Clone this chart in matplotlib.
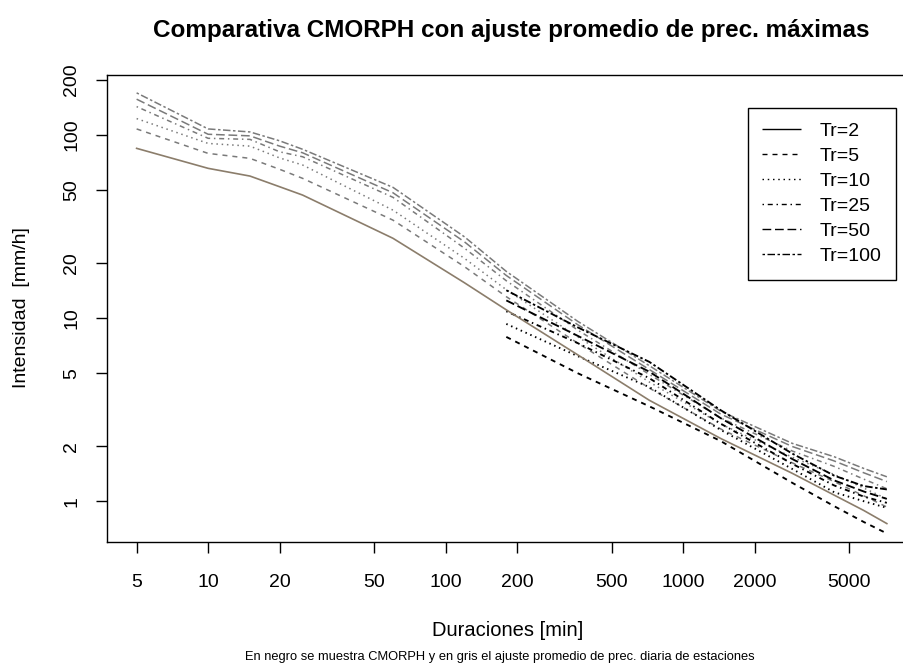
import numpy as np
import matplotlib
matplotlib.use("Agg")
import matplotlib.pyplot as plt
from matplotlib.lines import Line2D

plt.rcParams['font.family'] = ['Liberation Sans', 'DejaVu Sans']
plt.rcParams['lines.scale_dashes'] = False

# durations [min] of the station fit (gray) and of CMORPH (black)
dur_gray = [5, 10, 15, 20, 25, 60, 120, 180, 360, 720, 1440, 2880, 4320, 5760, 7200]
dur_cm = [180, 360, 720, 1440, 2880, 4320, 5760, 7200]

# intensities [mm/h] - averaged station fit
gray_tr2 = [84.6, 65.8, 59.7, 52.2, 47.0, 27.3, 15.6, 11.1, 6.3, 3.56, 2.2, 1.42, 1.08, 0.89, 0.755]
gray_tr5 = [108, 79.4, 74.6, 65, 58, 34.3, 19.1, 13.1, 7.3, 4.15, 2.48, 1.62, 1.28, 1.07, 0.93]
gray_tr10 = [123, 90, 87, 75, 68.6, 38.9, 21.2, 14.3, 7.9, 4.48, 2.64, 1.74, 1.40, 1.18, 1.03]
gray_tr25 = [143, 96, 94.7, 81, 76.1, 45.7, 24.1, 16.0, 8.6, 4.93, 2.85, 1.88, 1.55, 1.32, 1.17]
gray_tr50 = [157, 101, 99, 87, 80, 48.4, 26.1, 17.1, 9.2, 5.24, 2.99, 1.99, 1.66, 1.43, 1.28]
gray_tr100 = [170, 108, 104, 93, 83.6, 51.8, 27.8, 18.0, 9.6, 5.5, 3.1, 2.07, 1.75, 1.51, 1.36]

# intensities [mm/h] - CMORPH
cm_tr5 = [7.9, 5.0, 3.3, 2.13, 1.26, 0.94, 0.77, 0.667]
cm_tr10 = [9.3, 6.2, 4.2, 2.45, 1.5, 1.12, 1.0, 0.92]
cm_tr25 = [10.9, 7.3, 4.7, 2.65, 1.6, 1.22, 1.06, 0.98]
cm_tr50 = [12.5, 8.0, 5.1, 2.84, 1.7, 1.3, 1.13, 1.03]
cm_tr100 = [14.2, 8.9, 5.77, 3.14, 1.82, 1.38, 1.21, 1.16]

labels = ['Tr=2', 'Tr=5', 'Tr=10', 'Tr=25', 'Tr=50', 'Tr=100']
xticks = [5, 10, 20, 50, 100, 200, 500, 1000, 2000, 5000]
yticks = [1, 2, 5, 10, 20, 50, 100, 200]

# R-like line types (points)
u = 0.9
styles = [(0, ()),
          (0, (4*u, 4*u)),
          (0, (1.2*u, 3*u)),
          (0, (1.2*u, 3*u, 4*u, 3*u)),
          (0, (7*u, 3*u)),
          (0, (2*u, 2*u, 6*u, 2*u))]

fig = plt.figure(figsize=(9.04, 6.64), dpi=100)
ax = fig.add_axes([106.7/904, 1 - 541.7/664, 810/904, 466.7/664])
ax.set_xscale('log')
ax.set_yscale('log')

gray = [gray_tr2, gray_tr5, gray_tr10, gray_tr25, gray_tr50, gray_tr100]
for i, g in enumerate(gray):
    if i == 0:
        ax.plot(dur_gray, g, color='#8b7d6b', lw=1.2, zorder=3)
    else:
        ax.plot(dur_gray, g, color='#7a7a7a', lw=1.1, linestyle=styles[i], zorder=2)

cm = [cm_tr5, cm_tr10, cm_tr25, cm_tr50, cm_tr100]
for i, c in enumerate(cm):
    ax.plot(dur_cm, c, color='black', lw=1.35, linestyle=styles[i+1], zorder=2)

ax.set_xlim(10**0.573, 10**3.983)
ax.set_ylim(10**-0.221, 10**2.328)
ax.minorticks_off()
ax.set_xticks(xticks)
ax.set_xticklabels([str(t) for t in xticks])
ax.set_yticks(yticks)
ax.set_yticklabels([str(t) for t in yticks])
ax.tick_params(axis='both', direction='out', length=8, width=1, labelsize=14)
ax.tick_params(axis='x', pad=15)
ax.tick_params(axis='y', pad=11, labelrotation=90)
for lab in ax.get_yticklabels():
    lab.set_va('center')
for s in ax.spines.values():
    s.set_linewidth(1)

handles = [Line2D([], [], color='black', lw=1, linestyle=styles[i]) for i in range(6)]
leg = ax.legend(handles, labels, loc='upper right', bbox_to_anchor=(0.9745, 0.9293),
                borderaxespad=0, fontsize=14, handlelength=2.0, handletextpad=0.95,
                labelspacing=0.38, borderpad=0.75, fancybox=False, framealpha=1,
                edgecolor='black')
leg.get_frame().set_linewidth(1)

fig.text(511.7/904, 1 - 30/664, 'Comparativa CMORPH con ajuste promedio de prec. máximas',
         ha='center', va='center', fontsize=17.5, fontweight='bold')
fig.text(508/904, 1 - 631/664, 'Duraciones [min]', ha='center', va='center', fontsize=14.5)
fig.text(22/904, 1 - 308/664, 'Intensidad  [mm/h]', ha='center', va='center',
         rotation=90, fontsize=14)
fig.text(500/904, 1 - 657/664,
         'En negro se muestra CMORPH y en gris el ajuste promedio de prec. diaria de estaciones',
         ha='center', va='center', fontsize=9.3)

fig.savefig('out.png', dpi=100)
